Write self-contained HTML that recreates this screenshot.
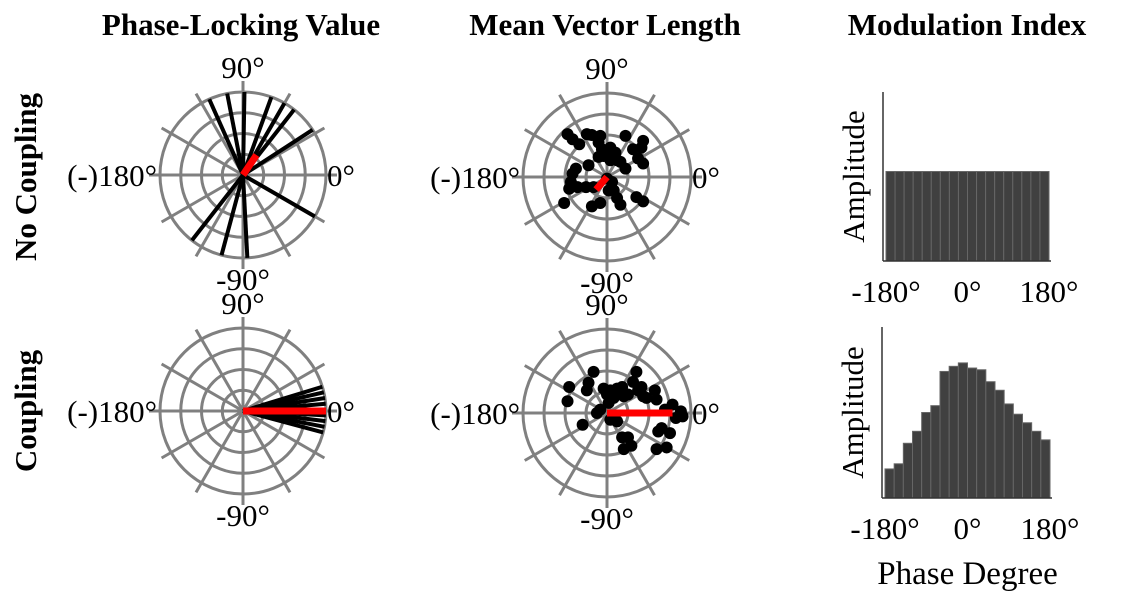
<!DOCTYPE html>
<html><head><meta charset="utf-8"><style>
html,body{margin:0;padding:0;background:#fff;}
svg{display:block;font-family:"Liberation Serif",serif;}
</style></head><body>
<svg id="fig" width="1124" height="615" viewBox="0 0 1124 615">
<g font-weight="bold" font-size="31" text-anchor="middle">
<text x="241" y="35">Phase-Locking Value</text>
<text x="605" y="35">Mean Vector Length</text>
<text x="967" y="35">Modulation Index</text>
<text transform="translate(36,177) rotate(-90)">No Coupling</text>
<text transform="translate(36,411) rotate(-90)">Coupling</text>
</g>
<g id="plots"></g>
</svg>
<script>
// PLV line angles (deg)
const plvTopAngles=[114,101,89,70,60,52,33,-30,-87,-105,-128];
const plvTopMeanAngle=56, plvTopMeanLen=0.29;
const plvBotAngles=[17,13,9,5,1,-3,-7,-11,-15];
const plvBotMeanAngle=0, plvBotMeanLen=1.0;
// MVL points (cartesian, unit radius)
const mvlTopX=[-0.47,-0.41,-0.33,-0.24,-0.18,-0.08,-0.1,-0.06,0,0.04,0.1,0.12,0.04,-0.04,-0.1,0.22,0.43,0.41,0.31,0.37,0.43,0.22,0.16,-0.22,-0.37,-0.41,-0.43,-0.45,-0.35,-0.25,-0.16,0,0.06,0.08,0.12,0.16,-0.08,-0.18,-0.51,0.35,0.43,0.02];
const mvlTopY=[0.51,0.45,0.39,0.51,0.5,0.49,0.41,0.33,0.31,0.35,0.29,0.2,0.2,0.25,0.24,0.49,0.43,0.35,0.33,0.22,0.16,0.1,0.18,0.14,0.1,0.04,-0.06,-0.14,-0.12,-0.12,-0.12,-0.02,-0.06,-0.16,-0.25,-0.33,-0.31,-0.35,-0.31,-0.24,-0.29,-0.16];
const mvlTopMeanX=-0.13, mvlTopMeanY=-0.15;
const mvlBotX=[-0.45,-0.47,-0.22,-0.16,-0.24,-0.29,-0.12,-0.04,0,0.04,0.12,0.18,0.08,0.02,0.04,0.12,0.2,0.25,0.35,0.31,0.37,0.41,0.43,0.47,0.57,0.59,0.69,0.78,0.88,0.9,0.82,0.65,0.75,0.61,0.18,0.25,0.2,0.29,0.59,0.71,-0.08];
const mvlBotY=[0.31,0.14,0.36,0.49,0.27,-0.14,0,0.29,0.22,0.27,0.29,0.31,0.18,0.12,-0.08,-0.1,0.2,0.22,0.49,0.37,0.27,0.31,0.2,0.18,0.27,0.16,0.04,0.1,0.02,-0.04,-0.06,-0.18,-0.24,-0.22,-0.29,-0.29,-0.43,-0.39,-0.43,-0.41,0.04];
const mvlBotMeanX=0.78, mvlBotMeanY=0;
// Histogram values (18 bins, -180..180)
const histTop=[0.0556,0.0556,0.0556,0.0556,0.0556,0.0556,0.0556,0.0556,0.0556,0.0556,0.0556,0.0556,0.0556,0.0556,0.0556,0.0556,0.0556,0.0556];
const histBot=[0.017,0.020,0.032,0.039,0.050,0.054,0.074,0.077,0.079,0.076,0.075,0.068,0.063,0.055,0.049,0.044,0.039,0.034];
const histYMaxTop=0.105, histYMaxBot=0.1;
const histTicks=["-180°","0°","180°"];

const NS="http://www.w3.org/2000/svg";
const root=document.getElementById('plots');
function mk(tag,attrs,parent){const e=document.createElementNS(NS,tag);for(const k in attrs)e.setAttribute(k,attrs[k]);(parent||root).appendChild(e);return e;}
function txt(x,y,s,anchor,parent,fs){const t=mk('text',{x:x,y:y,'font-size':fs||31,'text-anchor':anchor},parent);t.textContent=s;return t;}

function polarGrid(cx,cy,R,name){
  const g=mk('g',{});
  
  
  for(let a=0;a<360;a+=30){const r=a*Math.PI/180;
    const l=mk('line',{x1:cx,y1:cy,x2:cx+(R+11)*Math.cos(r),y2:cy-(R+11)*Math.sin(r),stroke:'#808080','stroke-width':3},g);
    
    }
  [1,0.75,0.5,0.25].forEach(f=>{const c=mk('circle',{cx:cx,cy:cy,r:R*f,fill:'none',stroke:'#808080','stroke-width':3},g);
    
    });
  const l1=txt(cx,cy-R-14,'90°','middle',g);
  const l2=txt(cx,cy+R+32,'-90°','middle',g);
  const l3=txt(cx-R-3,cy+11,'(-)180°','end',g);
  const l4=txt(cx+R+1,cy+11,'0°','start',g);
  return g;
}
function plv(cx,cy,R,angles,mA,mL,name){
  const g=polarGrid(cx,cy,R,name);
  angles.forEach(a=>{const r=a*Math.PI/180;
    const l=mk('line',{x1:cx,y1:cy,x2:cx+R*Math.cos(r),y2:cy-R*Math.sin(r),stroke:'#000','stroke-width':4},g);
    
    });
  const r=mA*Math.PI/180;
  const m=mk('line',{x1:cx,y1:cy,x2:cx+R*mL*Math.cos(r),y2:cy-R*mL*Math.sin(r),stroke:'#ff0000','stroke-width':7},g);
  
  
}
function mvl(cx,cy,R,xs,ys,mx,my,name){
  const g=polarGrid(cx,cy,R,name);
  xs.forEach((x,i)=>{const c=mk('circle',{cx:cx+x*R,cy:cy-ys[i]*R,r:6,fill:'#000'},g);
    
    });
  const m=mk('line',{x1:cx,y1:cy,x2:cx+mx*R,y2:cy-my*R,stroke:'#ff0000','stroke-width':7},g);
  
  
}
function hist(x0,x1,yTop,yBot,vals,ymax,name,tickY,xlabel){
  const g=mk('g',{});
  
  
  const bx0=x0+3,bx1=x1;const w=(bx1-bx0)/vals.length;
  const ys=v=>yBot-(v/ymax)*(yBot-yTop);
  vals.forEach((v,i)=>{const b=mk('rect',{x:bx0+i*w,y:ys(v),width:w,height:yBot-ys(v),fill:'#404040',stroke:'#666','stroke-width':1},g);
    
    });
  const ax=mk('line',{x1:x0,y1:yTop,x2:x0,y2:yBot,stroke:'#333','stroke-width':1.5},g);
  
  const bx=mk('line',{x1:x0,y1:yBot,x2:x1+2,y2:yBot,stroke:'#333','stroke-width':1.5},g);
  
  const yl=mk('text',{transform:`translate(${x0-19},${(yTop+yBot)/2}) rotate(-90)`,'font-size':31,'text-anchor':'middle'},g);
  yl.textContent='Amplitude';
  
  histTicks.forEach((t,i)=>{const tx=txt(bx0+i*(bx1-bx0)/2,tickY,t,'middle',g);
    });
  if(xlabel){const xl=txt((bx0+bx1)/2,584,xlabel,'middle',g,33);
    }
}
plv(243,175,83,plvTopAngles,plvTopMeanAngle,plvTopMeanLen,'plv-no-coupling');
plv(243,411,83,plvBotAngles,plvBotMeanAngle,plvBotMeanLen,'plv-coupling');
mvl(607,177,84,mvlTopX,mvlTopY,mvlTopMeanX,mvlTopMeanY,'mvl-no-coupling');
mvl(607,413,84,mvlBotX,mvlBotY,mvlBotMeanX,mvlBotMeanY,'mvl-coupling');
hist(883,1049,92,261,histTop,histYMaxTop,'mi-no-coupling',302,null);
hist(882,1050,327,498,histBot,histYMaxBot,'mi-coupling',539,'Phase Degree');
</script>
</body></html>
